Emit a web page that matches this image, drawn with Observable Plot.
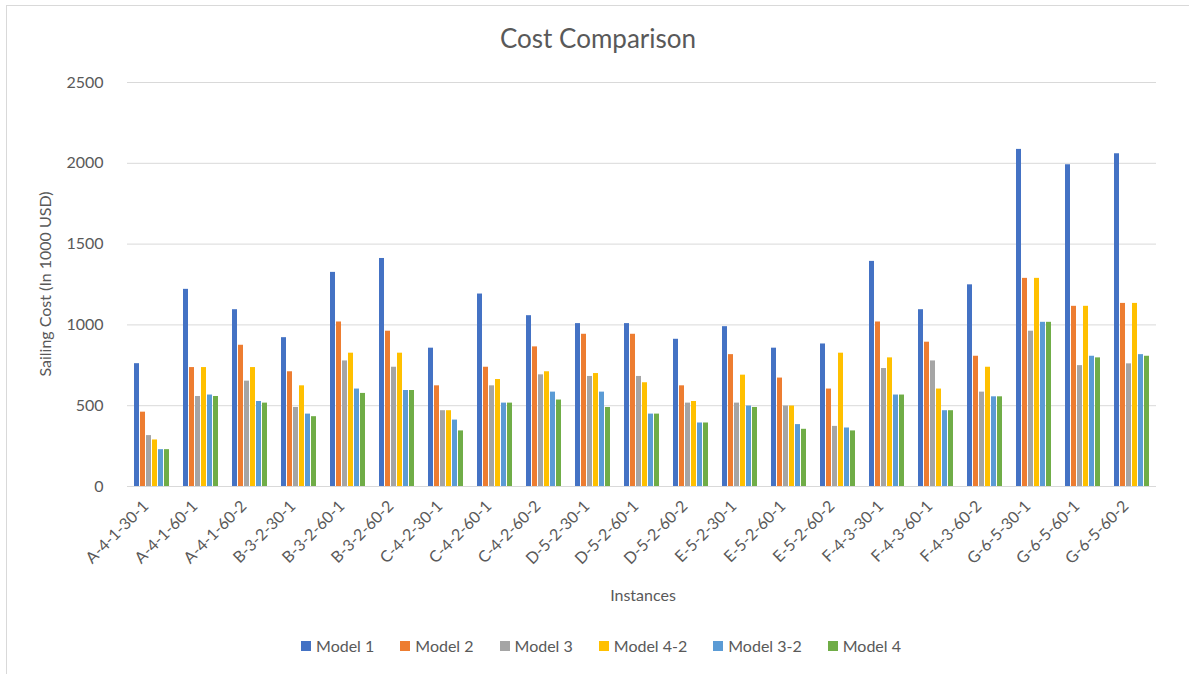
<!DOCTYPE html>
<html>
<head>
<meta charset="utf-8">
<script src="https://cdn.jsdelivr.net/npm/d3@7"></script>
<script src="https://cdn.jsdelivr.net/npm/@observablehq/plot@0.6"></script>
<style>
  html, body { margin: 0; padding: 0; background: #fff; }
  body { width: 1189px; height: 674px; position: relative; overflow: hidden; font-family: Lato, "Open Sans", sans-serif; color: #595959; }
  #frame { position: absolute; left: 6px; top: 5px; width: 1200px; height: 700px; border: 1px solid #d9d9d9; box-sizing: border-box; }
  #title { position: absolute; left: 0; width: 1196px; top: 22px; text-align: center; font-size: 26px; color: #595959; }
  #chart { position: absolute; left: 0; top: 70px; }
  #ylabel { position: absolute; left: 44px; top: 284px; transform: translate(-50%, -50%) rotate(-90deg); white-space: nowrap; font-size: 16px; }
  #xlabel { position: absolute; left: 643px; top: 594px; transform: translate(-50%, -50%); font-size: 16px; }
  #legend { position: absolute; left: 0; width: 1202px; top: 636px; display: flex; justify-content: center; gap: 26px; font-size: 16px; }
  #legend .item { display: flex; align-items: center; gap: 5px; }
  #legend .sw { width: 10px; height: 10px; display: inline-block; }
</style>
</head>
<body>
<div id="frame"></div>
<div id="title">Cost Comparison</div>
<div id="chart"></div>
<div id="ylabel">Sailing Cost (In 1000 USD)</div>
<div id="xlabel">Instances</div>
<div id="legend"></div>
<script>
const instances = ["A-4-1-30-1","A-4-1-60-1","A-4-1-60-2","B-3-2-30-1","B-3-2-60-1","B-3-2-60-2","C-4-2-30-1","C-4-2-60-1","C-4-2-60-2","D-5-2-30-1","D-5-2-60-1","D-5-2-60-2","E-5-2-30-1","E-5-2-60-1","E-5-2-60-2","F-4-3-30-1","F-4-3-60-1","F-4-3-60-2","G-6-5-30-1","G-6-5-60-1","G-6-5-60-2"];
const models = ["Model 1","Model 2","Model 3","Model 4-2","Model 3-2","Model 4"];
const model1  = [760,1220,1094,921,1325,1411,856,1191,1057,1008,1008,911,989,856,882,1393,1094,1248,2086,1991,2059];
const model2  = [460,736,874,710,1018,961,623,738,864,942,942,623,816,671,603,1018,893,806,1288,1115,1133];
const model3  = [315,557,652,489,777,738,469,623,691,681,681,516,516,498,372,730,777,584,961,748,759];
const model42 = [288,736,736,623,825,825,469,662,710,699,642,526,689,498,825,796,603,738,1288,1115,1133];
const model32 = [228,566,526,448,603,594,411,516,584,584,448,393,498,383,362,566,469,555,1016,806,816];
const model4  = [228,557,516,432,576,594,344,516,535,489,448,393,489,354,344,566,469,555,1016,796,806];
const yTicks = [0,500,1000,1500,2000,2500];
const colors = ["#4472C4","#ED7D31","#A5A5A5","#FFC000","#5B9BD5","#70AD47"];

const series = [model1, model2, model3, model42, model32, model4];
const data = [];
instances.forEach((inst, i) => {
  models.forEach((m, j) => data.push({instance: inst, model: m, value: series[j][i]}));
});

const chart = Plot.plot({
  width: 1189,
  height: 545,
  marginLeft: 118,
  marginRight: 24,
  marginTop: 12,
  marginBottom: 129,
  style: {fontFamily: "Lato, 'Open Sans', sans-serif", fontSize: "16px", color: "#595959", background: "transparent"},
  fx: {domain: instances, padding: 0, label: null},
  x: {domain: models, paddingInner: 0.12, paddingOuter: 0.9, axis: null},
  y: {domain: [0, 2500], label: null},
  color: {domain: models, range: colors},
  marks: [
    Plot.gridY(yTicks, {stroke: "#d9d9d9", strokeOpacity: 1, strokeWidth: 1}),
    Plot.axisY(yTicks, {tickSize: 0, tickPadding: 24, label: null, fontSize: 16, tickFormat: d => String(d)}),
    Plot.axisFx({anchor: "bottom", tickRotate: -45, tickSize: 0, tickPadding: 10, dx: -6, dy: 7, label: null, fontSize: 16}),
    Plot.barY(data, {fx: "instance", x: "model", y: "value", fill: "model"})
  ]
});
document.getElementById("chart").appendChild(chart);

const legend = document.getElementById("legend");
models.forEach((m, j) => {
  const it = document.createElement("div");
  it.className = "item";
  const sw = document.createElement("span");
  sw.className = "sw";
  sw.style.background = colors[j];
  const t = document.createElement("span");
  t.textContent = m;
  it.appendChild(sw); it.appendChild(t);
  legend.appendChild(it);
});
</script>
</body>
</html>
